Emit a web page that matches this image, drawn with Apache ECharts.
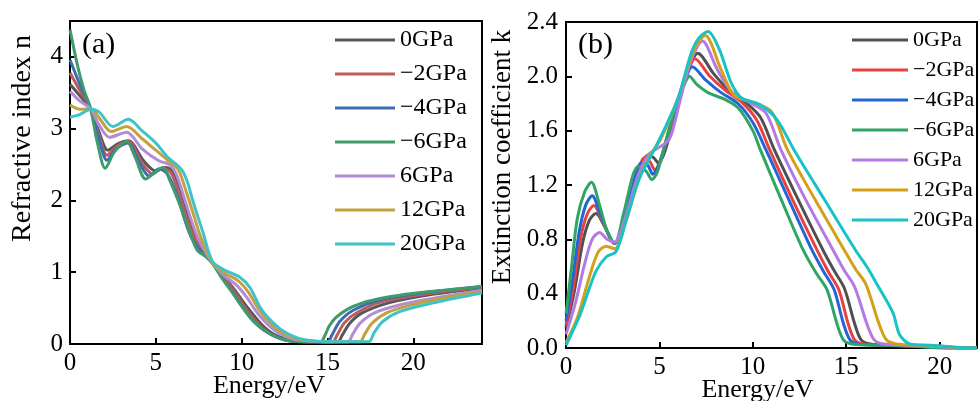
<!DOCTYPE html>
<html>
<head>
<meta charset="utf-8">
<script src="https://cdn.jsdelivr.net/npm/echarts@6/dist/echarts.min.js"></script>
<style>
html,body{margin:0;padding:0;background:#fff;}
#chart{width:979px;height:401px;}
</style>
</head>
<body>
<div id="chart"></div>
<script>
// ---------- data ----------
const seriesNames = ['0GPa', '\u22122GPa', '\u22124GPa', '\u22126GPa', '6GPa', '12GPa', '20GPa'];
const xTicksN = [0, 5, 10, 15, 20];
const yTicksN = [0, 1, 2, 3, 4];
const xTicksK = [0, 5, 10, 15, 20];
const yTicksK = [0.0, 0.4, 0.8, 1.2, 1.6, 2.0, 2.4];

// (a) refractive index n : [Energy eV, n]
const n_0GPa = [[0,3.62],[0.6,3.45],[1.2,3.28],[1.7,2.95],[2.2,2.7],[2.8,2.79],[3.4,2.83],[4.3,2.55],[5.0,2.41],[5.6,2.46],[6.0,2.4],[6.5,2.1],[6.9,1.78],[7.3,1.52],[7.8,1.3],[8.3,1.13],[9.0,0.93],[9.6,0.75],[10.2,0.55],[10.7,0.4],[11.3,0.24],[12.0,0.12],[13.0,0.05],[14.0,0.03],[15.6,0.03],[15.85,0.12],[16.3,0.29],[17.0,0.43],[18.5,0.57],[20.5,0.67],[24,0.78]];
const n_m2GPa = [[0,3.78],[0.6,3.52],[1.2,3.28],[1.7,2.9],[2.15,2.63],[2.75,2.76],[3.4,2.82],[4.2,2.52],[4.8,2.37],[5.4,2.45],[5.9,2.38],[6.4,2.05],[6.8,1.75],[7.2,1.5],[7.8,1.28],[8.3,1.13],[9.0,0.92],[9.6,0.72],[10.1,0.54],[10.6,0.38],[11.2,0.22],[11.9,0.11],[13.0,0.04],[15.3,0.03],[15.55,0.12],[16.0,0.3],[16.8,0.45],[18.2,0.59],[20.5,0.69],[24,0.79]];
const n_m4GPa = [[0,3.96],[0.6,3.6],[1.2,3.28],[1.7,2.85],[2.15,2.56],[2.7,2.72],[3.35,2.8],[4.1,2.5],[4.6,2.34],[5.2,2.44],[5.7,2.36],[6.3,2.03],[6.7,1.72],[7.1,1.47],[7.7,1.27],[8.3,1.13],[8.9,0.91],[9.5,0.71],[10.1,0.5],[10.6,0.34],[11.3,0.19],[12.2,0.08],[13.0,0.04],[15.0,0.03],[15.25,0.12],[15.7,0.31],[16.5,0.47],[18.0,0.61],[20.5,0.71],[24,0.8]];
const n_m6GPa = [[0,4.38],[0.4,3.92],[0.8,3.55],[1.2,3.28],[1.6,2.8],[2.05,2.45],[2.6,2.68],[3.3,2.82],[3.8,2.6],[4.4,2.3],[4.9,2.38],[5.4,2.46],[5.85,2.26],[6.3,2.0],[6.8,1.68],[7.4,1.31],[7.95,1.21],[8.3,1.12],[8.9,0.9],[9.5,0.7],[10.2,0.46],[10.8,0.29],[11.6,0.15],[12.5,0.06],[13.5,0.03],[14.6,0.03],[14.85,0.12],[15.1,0.25],[15.5,0.37],[16.2,0.49],[17.0,0.57],[18.0,0.63],[19.2,0.68],[21.0,0.73],[24,0.8]];
const n_6GPa = [[0,3.52],[0.6,3.38],[1.2,3.28],[1.7,3.05],[2.3,2.88],[3.3,2.95],[4.2,2.72],[5.2,2.55],[5.8,2.5],[6.2,2.36],[6.7,2.0],[7.1,1.7],[7.5,1.45],[8.3,1.13],[9.0,0.95],[9.7,0.82],[10.3,0.65],[10.8,0.47],[11.4,0.3],[12.1,0.16],[13.0,0.07],[14.0,0.04],[16.2,0.03],[16.45,0.13],[16.9,0.29],[17.8,0.44],[19.5,0.56],[21.5,0.65],[24,0.75]];
const n_12GPa = [[0,3.33],[0.6,3.27],[1.2,3.28],[1.7,3.15],[2.4,2.96],[3.3,3.03],[4.2,2.86],[5.0,2.7],[5.7,2.56],[6.3,2.43],[6.8,2.1],[7.2,1.8],[7.6,1.5],[8.3,1.13],[9.0,0.99],[9.8,0.88],[10.4,0.72],[10.9,0.52],[11.5,0.33],[12.2,0.18],[13.1,0.08],[14.0,0.04],[15.0,0.03],[16.9,0.03],[17.15,0.13],[17.6,0.29],[18.5,0.44],[20.0,0.55],[22.0,0.65],[24,0.73]];
const n_20GPa = [[0,3.16],[0.6,3.2],[1.2,3.27],[1.7,3.23],[2.5,3.03],[3.4,3.13],[4.2,2.97],[5.0,2.8],[5.7,2.6],[6.5,2.43],[6.85,2.25],[7.15,2.0],[7.75,1.55],[8.3,1.15],[9.0,1.03],[9.9,0.93],[10.5,0.78],[11.05,0.52],[11.6,0.35],[12.3,0.2],[13.2,0.09],[14.0,0.05],[15.0,0.03],[17.4,0.03],[17.7,0.15],[18.2,0.31],[19.2,0.45],[21.1,0.57],[24,0.71]];

// (b) extinction coefficient k : [Energy eV, k]
const k_0GPa = [[0,0.15],[0.45,0.42],[0.9,0.78],[1.25,0.94],[1.6,0.99],[2.05,0.9],[2.6,0.77],[3.2,0.95],[3.8,1.25],[4.4,1.42],[4.7,1.4],[4.95,1.36],[5.3,1.45],[5.7,1.65],[6.2,1.9],[6.6,2.07],[7.05,2.17],[7.9,2.02],[8.7,1.9],[9.6,1.81],[10.4,1.7],[11.15,1.46],[12.4,1.1],[13.76,0.72],[14.35,0.57],[14.9,0.44],[15.45,0.18],[15.8,0.06],[16.3,0.03],[17.8,0.02],[19.6,0.01],[20.6,0],[22,0]];
const k_m2GPa = [[0,0.17],[0.4,0.45],[0.8,0.82],[1.15,0.99],[1.5,1.05],[1.95,0.93],[2.6,0.77],[3.2,0.96],[3.8,1.27],[4.2,1.4],[4.5,1.37],[4.75,1.31],[5.1,1.4],[5.6,1.63],[6.1,1.87],[6.5,2.03],[6.9,2.13],[7.7,2.0],[8.5,1.9],[9.4,1.81],[10.2,1.68],[10.9,1.46],[12.1,1.1],[13.44,0.72],[14.05,0.56],[14.6,0.43],[15.1,0.18],[15.45,0.06],[15.9,0.03],[17.5,0.02],[19.4,0.01],[20.4,0],[22,0]];
const k_m4GPa = [[0,0.2],[0.35,0.5],[0.7,0.85],[1.05,1.05],[1.4,1.12],[1.85,0.98],[2.6,0.77],[3.2,0.98],[3.7,1.26],[4.0,1.36],[4.35,1.35],[4.65,1.28],[5.0,1.36],[5.5,1.6],[6.0,1.83],[6.4,1.98],[6.75,2.07],[7.5,1.97],[8.3,1.88],[9.2,1.8],[10.0,1.66],[10.7,1.46],[11.9,1.1],[13.17,0.72],[13.8,0.56],[14.35,0.43],[14.85,0.18],[15.2,0.06],[15.6,0.03],[17.2,0.02],[19.2,0.01],[20.2,0],[22,0]];
const k_m6GPa = [[0,0.25],[0.3,0.6],[0.6,0.95],[1.0,1.15],[1.36,1.22],[1.8,1.05],[2.2,0.86],[2.6,0.77],[3.1,1.0],[3.6,1.28],[3.9,1.34],[4.3,1.3],[4.6,1.24],[4.9,1.3],[5.5,1.6],[6.0,1.83],[6.4,1.96],[6.6,2.0],[7.0,1.94],[7.6,1.88],[8.5,1.83],[9.2,1.77],[10.0,1.6],[10.4,1.46],[11.5,1.1],[12.7,0.72],[13.4,0.55],[13.97,0.43],[14.5,0.18],[14.85,0.06],[15.3,0.03],[17.0,0.02],[19.0,0.01],[20,0],[22,0]];
const k_6GPa = [[0,0.1],[0.5,0.33],[1.0,0.62],[1.4,0.8],[1.8,0.85],[2.2,0.8],[2.6,0.78],[3.2,0.97],[3.8,1.25],[4.4,1.42],[4.9,1.47],[5.5,1.53],[5.8,1.65],[6.1,1.82],[6.7,2.12],[7.3,2.26],[8.1,2.05],[8.9,1.88],[9.8,1.81],[10.7,1.73],[11.5,1.46],[12.8,1.1],[14.3,0.72],[14.9,0.57],[15.45,0.45],[16.1,0.18],[16.5,0.06],[17.0,0.03],[18.4,0.02],[20.0,0.01],[21,0],[22,0]];
const k_12GPa = [[0,0.04],[0.6,0.22],[1.2,0.5],[1.7,0.7],[2.15,0.75],[2.6,0.73],[3.2,0.93],[3.9,1.24],[4.5,1.42],[5.0,1.52],[5.6,1.7],[6.1,1.88],[6.8,2.18],[7.45,2.3],[8.3,2.05],[9.0,1.86],[10.0,1.81],[11.0,1.74],[11.85,1.46],[13.3,1.1],[14.9,0.72],[15.5,0.58],[16.05,0.47],[16.75,0.18],[17.15,0.06],[17.7,0.03],[19.0,0.02],[20.4,0.01],[21.3,0],[22,0]];
const k_20GPa = [[0,0.02],[0.74,0.24],[1.2,0.42],[1.62,0.57],[2.15,0.67],[2.68,0.71],[3.2,0.93],[3.9,1.24],[4.8,1.48],[5.5,1.68],[6.03,1.85],[6.7,2.17],[7.1,2.28],[7.6,2.33],[8.2,2.2],[8.85,1.95],[9.4,1.84],[10.4,1.79],[11.3,1.68],[12.2,1.46],[13.8,1.1],[15.5,0.72],[16.1,0.6],[16.6,0.48],[17.5,0.26],[17.85,0.1],[18.4,0.03],[19.5,0.02],[20.6,0.01],[21.5,0],[22,0]];

const nData = [n_0GPa, n_m2GPa, n_m4GPa, n_m6GPa, n_6GPa, n_12GPa, n_20GPa];
const kData = [k_0GPa, k_m2GPa, k_m4GPa, k_m6GPa, k_6GPa, k_12GPa, k_20GPa];

// ---------- styles ----------
const colorsA = ['#575757', '#be5c5c', '#3b6cb4', '#409b6b', '#b48bd6', '#c4a13c', '#3fc3c8'];
const colorsB = ['#505050', '#e8413f', '#2266d6', '#2fa565', '#b37ae6', '#d4a017', '#17c3c6'];
const FONT = '"Liberation Serif", "Times New Roman", serif';

const chart = echarts.init(document.getElementById('chart'), null, {renderer: 'canvas'});

function xAxisCfg(gridIndex, max) {
  return {
    type: 'value', gridIndex: gridIndex, min: 0, max: max, interval: 5,
    name: 'Energy/eV', nameLocation: 'middle', nameGap: 29, nameMoveOverlap: false,
    nameTextStyle: {fontFamily: FONT, fontSize: 26, color: '#000', padding: [0, gridIndex === 0 ? 14 : 28, 0, 0]},
    axisLine: {show: true, lineStyle: {color: '#000', width: 2}},
    axisTick: {show: true, inside: true, length: 6, lineStyle: {color: '#000', width: 2}},
    axisLabel: {fontFamily: FONT, fontSize: 25, color: '#000', margin: 7, showMaxLabel: false},
    splitLine: {show: false}
  };
}

const option = {
  animation: false,
  backgroundColor: '#fff',
  grid: [
    {left: 70, top: 21, width: 412, height: 323, show: true, borderColor: '#000', borderWidth: 2, outerBoundsMode: 'none', containLabel: false},
    {left: 566, top: 22, width: 411, height: 326, show: true, borderColor: '#000', borderWidth: 2, outerBoundsMode: 'none', containLabel: false}
  ],
  xAxis: [xAxisCfg(0, 24), xAxisCfg(1, 22)],
  yAxis: [
    {
      type: 'value', gridIndex: 0, min: 0, max: 4.5, interval: 1,
      name: 'Refractive index n', nameLocation: 'middle', nameGap: 33, nameMoveOverlap: false,
      nameTextStyle: {fontFamily: FONT, fontSize: 28, color: '#000', padding: [0, 0, 0, 88]},
      axisLine: {show: true, lineStyle: {color: '#000', width: 2}},
      axisTick: {show: true, inside: true, length: 6, lineStyle: {color: '#000', width: 2}},
      axisLabel: {fontFamily: FONT, fontSize: 25, color: '#000', margin: 7, showMaxLabel: false},
      splitLine: {show: false}
    },
    {
      type: 'value', gridIndex: 1, min: 0, max: 2.4, interval: 0.4,
      name: 'Extinction coefficient k', nameLocation: 'middle', nameGap: 50, nameMoveOverlap: false,
      nameTextStyle: {fontFamily: FONT, fontSize: 27, color: '#000', padding: [0, 0, 0, 56]},
      axisLine: {show: true, lineStyle: {color: '#000', width: 2}},
      axisTick: {show: true, inside: true, length: 6, lineStyle: {color: '#000', width: 2}},
      axisLabel: {fontFamily: FONT, fontSize: 25, color: '#000', margin: 8,
        formatter: function (v) { return v.toFixed(1); }},
      splitLine: {show: false}
    }
  ],
  legend: [
    {
      orient: 'vertical', left: 330, top: 23, itemGap: 10, itemWidth: 60, itemHeight: 14,
      textStyle: {fontFamily: FONT, fontSize: 24, color: '#000'},
      data: seriesNames.map((nm, i) => ({name: nm, icon: 'path://M0,0L60,0L60,3L0,3Z', itemStyle: {color: colorsA[i]}})),
      selectedMode: false
    },
    {
      orient: 'vertical', left: 847, top: 24, itemGap: 8, itemWidth: 56, itemHeight: 14,
      textStyle: {fontFamily: FONT, fontSize: 22, color: '#000'},
      data: seriesNames.map((nm, i) => ({name: nm, icon: 'path://M0,0L60,0L60,3L0,3Z', itemStyle: {color: colorsB[i]}})),
      selectedMode: false
    }
  ],
  graphic: [
    {type: 'text', left: 82, top: 30, style: {text: '(a)', font: '30px ' + FONT, fill: '#000'}},
    {type: 'text', left: 578, top: 30, style: {text: '(b)', font: '30px ' + FONT, fill: '#000'}}
  ],
  series: []
};

seriesNames.forEach((nm, i) => {
  option.series.push({
    name: nm, type: 'line', xAxisIndex: 0, yAxisIndex: 0, data: nData[i],
    symbol: 'none', smooth: 0.3, clip: true,
    lineStyle: {color: colorsA[i], width: 3}, itemStyle: {color: colorsA[i]}
  });
});
seriesNames.forEach((nm, i) => {
  option.series.push({
    name: nm, type: 'line', xAxisIndex: 1, yAxisIndex: 1, data: kData[i],
    symbol: 'none', smooth: 0.3, clip: true,
    lineStyle: {color: colorsB[i], width: 3}, itemStyle: {color: colorsB[i]}
  });
});

chart.setOption(option);
</script>
</body>
</html>
